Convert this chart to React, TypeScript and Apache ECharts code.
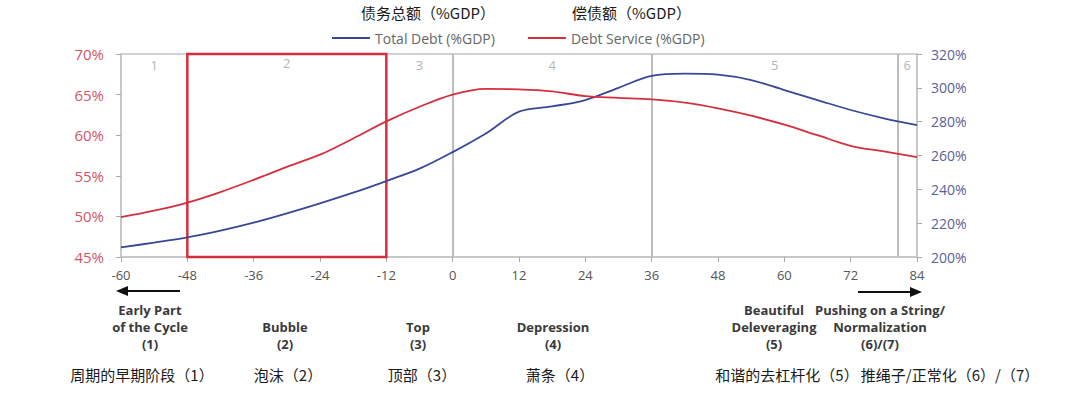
import React, { useEffect, useRef } from "react";
import * as echarts from "echarts";

const months = [-60, -54, -48, -42, -36, -30, -24, -18, -12, -6, 0, 6, 12, 18, 24, 30, 36, 42, 48, 54, 60, 66, 72, 78, 84];
const totalDebt = [205.7, 208.5, 211.6, 215.6, 220.3, 225.8, 231.7, 238.0, 244.9, 252.2, 262.0, 273.0, 285.9, 289.0, 292.8, 300.0, 307.0, 308.4, 307.8, 304.6, 298.7, 292.8, 286.9, 282.0, 278.0];
const debtService = [49.9, 50.7, 51.7, 53.0, 54.5, 56.1, 57.6, 59.6, 61.7, 63.5, 65.0, 65.7, 65.65, 65.4, 64.8, 64.6, 64.4, 64.0, 63.3, 62.4, 61.3, 60.0, 58.7, 58.0, 57.3];
const phaseBounds = [-60, -48, -12, 0, 36, 80.5, 84];
const phaseNames = ["1", "2", "3", "4", "5", "6"];
const dividerLines = [0, 36, 80.5];
const seriesNames = ["Total Debt (%GDP)", "Debt Service (%GDP)"];
const seriesTitlesCn = ["债务总额（%GDP）", "偿债额（%GDP）"];
const phaseLabelsEn = [
  "Early Part\nof the Cycle\n(1)",
  "Bubble\n(2)",
  "Top\n(3)",
  "Depression\n(4)",
  "Beautiful\nDeleveraging\n(5)",
  "Pushing on a String/\nNormalization\n(6)/(7)",
];
const phaseLabelsCn = ["周期的早期阶段（1）", "泡沫（2）", "顶部（3）", "萧条（4）", "和谐的去杠杆化（5）", "推绳子/正常化（6）/（7）"];

const RED = "#d42f3c";
const BLUE = "#3a4796";
const FONT = "'Open Sans', 'Noto Sans', sans-serif";
const CJK = "'Noto Sans CJK SC', sans-serif";

export default function App() {
  const ref = useRef<HTMLDivElement>(null);
  useEffect(() => {
    if (!ref.current) return;
    const chart = echarts.init(ref.current, null, { renderer: "svg" });
    const enX = [150, 285, 418, 553, 774, 880];
    const enY = [301, 318, 318, 318, 301, 301];
    const cnX = [142, 288, 422, 560, 787, 950];

    const graphics: any[] = [];
    graphics.push({ type: "text", left: 361, top: 5, style: { text: seriesTitlesCn[0], font: `normal 15px ${CJK}`, fill: "#1a1a1a" } });
    graphics.push({ type: "text", left: 572, top: 5, style: { text: seriesTitlesCn[1], font: `normal 15px ${CJK}`, fill: "#1a1a1a" } });
    phaseLabelsEn.forEach((t, i) => {
      graphics.push({
        type: "text",
        x: enX[i],
        y: enY[i],
        style: { text: t, font: `bold 13px ${FONT}`, fill: "#3a3a3a", align: "center", verticalAlign: "top", lineHeight: 17 },
      });
    });
    phaseLabelsCn.forEach((t, i) => {
      graphics.push({
        type: "text",
        x: cnX[i],
        y: 374,
        style: { text: t, font: `15px ${CJK}`, fill: "#1a1a1a", align: "center", verticalAlign: "middle" },
      });
    });
    graphics.push({ type: "line", shape: { x1: 180, y1: 291, x2: 126, y2: 291 }, style: { stroke: "#111", lineWidth: 2 } });
    graphics.push({ type: "polygon", shape: { points: [[116, 291], [128, 286], [128, 296]] }, style: { fill: "#111" } });
    graphics.push({ type: "line", shape: { x1: 858, y1: 292, x2: 912, y2: 292 }, style: { stroke: "#111", lineWidth: 2 } });
    graphics.push({ type: "polygon", shape: { points: [[922, 292], [910, 287], [910, 297]] }, style: { fill: "#111" } });

    const phaseData = phaseNames.map((n, i) => {
      const item: any = { xAxis: phaseBounds[i], name: n };
      if (i === 1) item.itemStyle = { color: "rgba(0,0,0,0)", borderColor: RED, borderWidth: 2.5 };
      return [item, { xAxis: phaseBounds[i + 1] }];
    });

    chart.setOption({
      animation: false,
      backgroundColor: "#fff",
      textStyle: { fontFamily: FONT },
      grid: { left: 121, right: 163, top: 54, bottom: 142, show: true, borderColor: "#c4c4c4", borderWidth: 1.5 },
      legend: {
        left: 327,
        top: 26,
        icon: "rect",
        itemWidth: 38,
        itemHeight: 2,
        itemGap: 33,
        textStyle: { color: "#666", fontSize: 14, fontFamily: FONT },
        data: seriesNames,
      },
      xAxis: {
        type: "value",
        min: -60,
        max: 84,
        interval: 12,
        axisLine: { onZero: false, lineStyle: { color: "#c4c4c4", width: 1.5 } },
        axisTick: { show: true, lineStyle: { color: "#aaa" }, length: 5 },
        axisLabel: { color: "#555", fontSize: 13, margin: 11 },
        splitLine: { show: false },
      },
      yAxis: [
        {
          type: "value",
          min: 45,
          max: 70,
          interval: 5,
          position: "left",
          axisLine: { show: true, onZero: false, lineStyle: { color: "#c4c4c4", width: 1.5 } },
          axisTick: { show: true, lineStyle: { color: "#aaa" }, length: 5 },
          axisLabel: { color: "#d0566a", fontSize: 15, formatter: "{value}%", margin: 17 },
          splitLine: { show: false },
        },
        {
          type: "value",
          min: 200,
          max: 320,
          interval: 20,
          position: "right",
          axisLine: { show: true, onZero: false, lineStyle: { color: "#c4c4c4", width: 1.5 } },
          axisTick: { show: true, lineStyle: { color: "#aaa" }, length: 5 },
          axisLabel: { color: "#5b6197", fontSize: 14, formatter: "{value}%", margin: 14 },
          splitLine: { show: false },
        },
      ],
      series: [
        {
          name: seriesNames[0],
          type: "line",
          yAxisIndex: 1,
          smooth: 0.35,
          showSymbol: false,
          lineStyle: { color: BLUE, width: 1.8 },
          itemStyle: { color: BLUE },
          data: months.map((m, i) => [m, totalDebt[i]]),
          markLine: {
            silent: true,
            symbol: ["none", "none"],
            label: { show: false },
            lineStyle: { color: "#bdbdbd", width: 2, type: "solid" },
            data: dividerLines.map((x) => ({ xAxis: x })),
            z: 1,
          },
        },
        {
          name: seriesNames[1],
          type: "line",
          yAxisIndex: 0,
          smooth: 0.35,
          showSymbol: false,
          lineStyle: { color: RED, width: 1.8 },
          itemStyle: { color: RED },
          data: months.map((m, i) => [m, debtService[i]]),
          markArea: {
            silent: true,
            itemStyle: { color: "rgba(0,0,0,0)" },
            label: { show: true, position: "insideTop", distance: 4, color: "#b5b5b5", fontSize: 13, formatter: "{b}" },
            data: phaseData,
          },
        },
      ],
      graphic: graphics,
    });
    return () => chart.dispose();
  }, []);
  return <div ref={ref} style={{ position: "fixed", left: 0, top: 0, width: 1080, height: 399, background: "#fff" }} />;
}
